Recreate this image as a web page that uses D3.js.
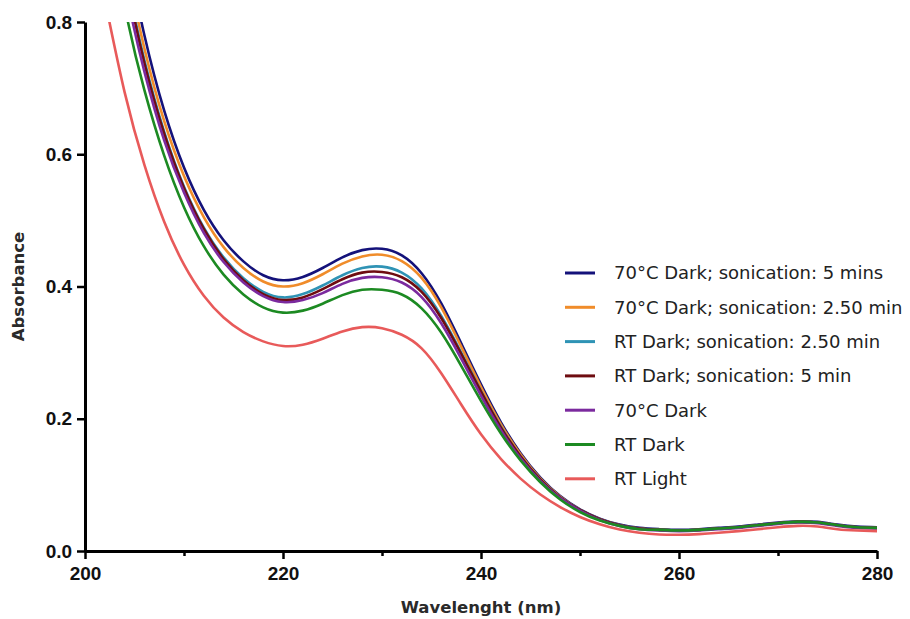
<!DOCTYPE html>
<html><head><meta charset="utf-8">
<script src="https://cdn.jsdelivr.net/npm/d3@7"></script>
<style>body{margin:0;background:#fff}svg{display:block}</style>
</head><body>
<svg id="chart" width="910" height="619"></svg>
<script>
const wavelengths = [202,204,206,208,210,212,214,216,218,220,222,224,226,228,230,232,234,236,238,240,242,244,246,248,250,252,254,256,258,260,262,264,266,268,270,272,274,276,278,280];
const seriesNames = ["70°C Dark; sonication: 5 mins","70°C Dark; sonication: 2.50 min","RT Dark; sonication: 2.50 min","RT Dark; sonication: 5 min","70°C Dark","RT Dark","RT Light"];
const seriesColors = ["#14127a","#f08c2a","#2f93b5","#6e0c10","#7b2a9e","#1c8a22","#e85a5a"];
const navy   = [1.12,0.93,0.78,0.666,0.58,0.516,0.470,0.438,0.417,0.4095,0.4145,0.428,0.444,0.455,0.457,0.447,0.420,0.374,0.314,0.252,0.195,0.148,0.111,0.083,0.063,0.049,0.040,0.035,0.033,0.032,0.033,0.035,0.037,0.040,0.043,0.045,0.044,0.040,0.037,0.036];
const orange = [1.09,0.905,0.76,0.65,0.567,0.505,0.4595,0.428,0.4075,0.400,0.405,0.4185,0.4345,0.4455,0.448,0.4385,0.413,0.368,0.309,0.248,0.192,0.146,0.1095,0.082,0.062,0.048,0.039,0.034,0.032,0.031,0.032,0.034,0.036,0.039,0.042,0.044,0.043,0.039,0.036,0.035];
const teal   = [1.07,0.885,0.742,0.634,0.551,0.489,0.444,0.4125,0.392,0.3835,0.3885,0.4015,0.417,0.428,0.430,0.421,0.397,0.355,0.300,0.242,0.188,0.143,0.108,0.081,0.062,0.048,0.039,0.034,0.032,0.031,0.032,0.034,0.036,0.039,0.042,0.044,0.043,0.039,0.036,0.035];
const maroon = [1.065,0.88,0.738,0.631,0.549,0.487,0.4415,0.4095,0.3885,0.3795,0.3835,0.396,0.411,0.421,0.422,0.414,0.392,0.352,0.298,0.241,0.187,0.143,0.108,0.081,0.062,0.048,0.039,0.034,0.032,0.031,0.032,0.034,0.036,0.039,0.042,0.044,0.043,0.039,0.036,0.035];
const purple = [1.04,0.86,0.725,0.621,0.542,0.481,0.437,0.406,0.3855,0.3765,0.3795,0.390,0.404,0.413,0.414,0.406,0.384,0.344,0.291,0.235,0.183,0.140,0.106,0.080,0.061,0.047,0.038,0.033,0.031,0.030,0.031,0.033,0.035,0.038,0.041,0.043,0.042,0.038,0.035,0.034];
const green  = [1.00,0.825,0.697,0.598,0.52,0.461,0.418,0.388,0.3685,0.3605,0.3635,0.374,0.387,0.395,0.395,0.388,0.367,0.330,0.280,0.227,0.178,0.137,0.104,0.078,0.059,0.046,0.038,0.033,0.032,0.031,0.032,0.034,0.036,0.039,0.042,0.044,0.043,0.039,0.036,0.035];
const red    = [0.834,0.694,0.584,0.498,0.433,0.386,0.353,0.331,0.317,0.310,0.312,0.321,0.332,0.3385,0.337,0.327,0.3065,0.2685,0.2215,0.1765,0.1395,0.1095,0.0855,0.0665,0.0515,0.0405,0.0325,0.0275,0.025,0.0245,0.0255,0.0275,0.030,0.033,0.036,0.038,0.037,0.033,0.031,0.030];
const seriesValues = [navy,orange,teal,maroon,purple,green,red];
const xTicks = [200,220,240,260,280];
const xMinor = [210,230,250,270];
const yTicks = [0.0,0.2,0.4,0.6,0.8];

const svg = d3.select("#chart");
const L = 85, R = 877, T = 22, B = 551;
const x = d3.scaleLinear().domain([200,280]).range([L,R]);
const y = d3.scaleLinear().domain([0,0.8]).range([B,T]);

svg.append("defs").append("clipPath").attr("id","clip")
  .append("rect").attr("x",L).attr("y",T).attr("width",R-L).attr("height",B-T);

const line = d3.line().x((d,i)=>x(wavelengths[i])).y(d=>y(d)).curve(d3.curveNatural);
const g = svg.append("g").attr("clip-path","url(#clip)");
seriesValues.forEach((vals,i)=>{
  g.append("path").datum(vals).attr("d",line).attr("fill","none")
   .attr("stroke",seriesColors[i]).attr("stroke-width",2.6);
});

// axes
const axFont = "'Liberation Sans', Arial, sans-serif";
const xAxis = svg.append("g").attr("transform",`translate(0,${B})`)
  .call(d3.axisBottom(x).tickValues(xTicks).tickFormat(d3.format("d")).tickSize(8).tickSizeOuter(0));
svg.append("g").attr("transform",`translate(0,${B})`)
  .call(d3.axisBottom(x).tickValues(xMinor).tickFormat("").tickSize(5).tickSizeOuter(0))
  .call(s=>s.select(".domain").remove());
const yAxis = svg.append("g").attr("transform",`translate(${L},0)`)
  .call(d3.axisLeft(y).tickValues(yTicks).tickFormat(d3.format(".1f")).tickSize(8).tickSizeOuter(0));
svg.selectAll(".domain").attr("stroke","#000").attr("stroke-width",3);
svg.selectAll(".tick line").attr("stroke","#000").attr("stroke-width",2.5);
xAxis.selectAll("text").attr("font-family",axFont).attr("font-size",19).attr("font-weight","bold").attr("fill","#111").attr("dy","0.95em");
yAxis.selectAll("text").attr("font-family",axFont).attr("font-size",19).attr("font-weight","bold").attr("fill","#111").attr("dx","-0.1em");

const labFont = "'DejaVu Sans', Verdana, sans-serif";
svg.append("text").attr("x",(L+R)/2).attr("y",613).attr("text-anchor","middle")
  .attr("font-family",labFont).attr("font-size",16.5).attr("font-weight","bold").attr("fill","#2a2a2a")
  .text("Wavelenght (nm)");
svg.append("text").attr("transform",`translate(24,${(T+B)/2}) rotate(-90)`).attr("text-anchor","middle")
  .attr("font-family",labFont).attr("font-size",16.5).attr("font-weight","bold").attr("fill","#2a2a2a")
  .text("Absorbance");

// legend
const leg = svg.append("g");
seriesNames.forEach((n,i)=>{
  const yy = 273 + i*34.3;
  leg.append("line").attr("x1",565).attr("x2",595).attr("y1",yy).attr("y2",yy)
    .attr("stroke",seriesColors[i]).attr("stroke-width",3);
  leg.append("text").attr("x",614).attr("y",yy).attr("dy","0.35em")
    .attr("font-family",labFont).attr("font-size",18).attr("fill","#222").text(n);
});
</script>
</body></html>
